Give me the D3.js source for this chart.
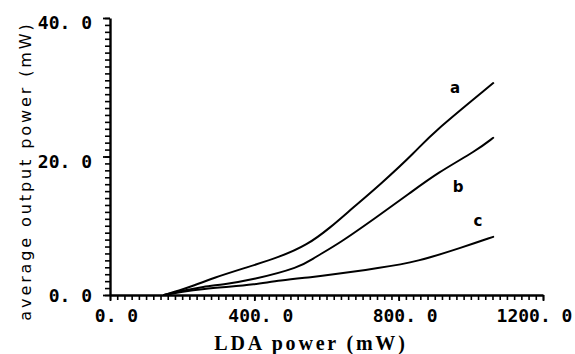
<!DOCTYPE html>
<html>
<head>
<meta charset="utf-8">
<script src="https://cdn.jsdelivr.net/npm/d3@7"></script>
<style>
  html, body { margin: 0; padding: 0; background: #fff; }
  svg { display: block; }
</style>
</head>
<body>
<svg id="chart" width="575" height="354"></svg>
<script>
// ---- data ----
const ldaA = [150, 194, 222, 285, 380, 471, 546, 610, 673, 748, 851, 887, 1062];
const outA = [0, 0.7, 1.15, 2.45, 4.0, 5.5, 7.2, 9.7, 12.6, 15.9, 20.9, 23.1, 30.6];

const ldaB = [150, 200, 260, 310, 396, 527, 563, 637, 740, 831, 906, 1017, 1062];
const outB = [0, 0.6, 1.2, 1.5, 2.2, 4.0, 5.3, 7.5, 11.3, 14.7, 17.6, 20.9, 22.7];

const ldaC = [150, 200, 260, 330, 396, 471, 563, 610, 748, 851, 978, 1062];
const outC = [0, 0.5, 0.9, 1.2, 1.5, 2.1, 2.6, 2.9, 3.9, 4.8, 6.9, 8.4];

const curveNames = ["a", "b", "c"];
const xMajorTicks = [0, 400, 800, 1200];
const xTickLabels = ["0. 0", "400. 0", "800. 0", "1200. 0"];
const yMajorTicks = [0, 20, 40];
const yTickLabels = ["0. 0", "20. 0", "40. 0"];
const xMinorStep = 20;
const yMinorStep = 1;
const xTitle = "LDA power (mW)";
const yTitle = "average output power (mW)";

// ---- layout ----
const svg = d3.select("#chart");
const x = d3.scaleLinear().domain([0, 1200]).range([110, 543]);
const y = d3.scaleLinear().domain([0, 40]).range([295, 18]);
const x0 = x(0), y0 = y(0);

const series = [
  { name: curveNames[0], xs: ldaA, ys: outA, lab: [455, 93] },
  { name: curveNames[1], xs: ldaB, ys: outB, lab: [458, 192] },
  { name: curveNames[2], xs: ldaC, ys: outC, lab: [478, 226] }
];

// titles
svg.append("text")
  .attr("transform", "translate(31,171) rotate(-90)")
  .attr("text-anchor", "middle")
  .style("font-family", "'DejaVu Sans', sans-serif")
  .style("font-size", "16px")
  .style("letter-spacing", "2.9px")
  .attr("fill", "#000")
  .text(yTitle);

svg.append("text")
  .attr("x", 311).attr("y", 350)
  .attr("text-anchor", "middle")
  .style("font-family", "'Liberation Serif', serif")
  .style("font-weight", "bold")
  .style("font-size", "20px")
  .style("letter-spacing", "2.8px")
  .attr("fill", "#000")
  .text(xTitle);

// curves
const lineGen = d3.line()
  .x(d => x(d[0]))
  .y(d => y(d[1]))
  .curve(d3.curveBasis);

series.forEach(s => {
  const pts = s.xs.map((v, i) => [v, s.ys[i]]);
  svg.append("path")
    .datum(pts)
    .attr("d", lineGen)
    .attr("fill", "none")
    .attr("stroke", "#000")
    .attr("stroke-width", 2)
    .attr("stroke-linejoin", "round")
    .attr("stroke-linecap", "round");
  svg.append("text")
    .attr("x", s.lab[0]).attr("y", s.lab[1])
    .attr("text-anchor", "middle")
    .style("font-family", "'DejaVu Sans', sans-serif")
    .style("font-weight", "bold")
    .style("font-size", "15px")
    .attr("fill", "#000")
    .text(s.name);
});

// minor ticks (d3 axes, no labels)
const yMinor = svg.append("g").attr("transform", `translate(${x0},0)`);
yMinor.call(d3.axisLeft(y)
  .tickValues(d3.range(0, 40 + 1e-6, yMinorStep))
  .tickSize(5)
  .tickFormat(() => ""));
yMinor.select(".domain").remove();
yMinor.selectAll(".tick line").attr("stroke", "#000").attr("stroke-width", 1.6);

const xMinor = svg.append("g").attr("transform", `translate(0,${y0})`);
xMinor.call(d3.axisBottom(x)
  .tickValues(d3.range(0, 1200 + 1e-6, xMinorStep))
  .tickSize(5)
  .tickFormat(() => ""));
xMinor.select(".domain").remove();
xMinor.selectAll(".tick line").attr("stroke", "#000").attr("stroke-width", 1.6);

// major axes with labels
const yAxis = svg.append("g")
  .attr("transform", `translate(${x0},0)`)
  .call(d3.axisLeft(y).tickValues(yMajorTicks).tickSize(7).tickSizeOuter(0)
    .tickFormat((d, i) => yTickLabels[i]));
yAxis.select(".domain").attr("stroke", "#000").attr("stroke-width", 2.4);
yAxis.selectAll(".tick line").attr("stroke", "#000").attr("stroke-width", 1.8);
yAxis.selectAll(".tick text")
  .attr("x", -18)
  .attr("dy", (d) => d === 0 ? "0.35em" : "0.6em")
  .attr("fill", "#000")
  .style("font-family", "'DejaVu Sans Mono', monospace")
  .style("font-weight", "bold")
  .style("font-size", "18px");

const xAxis = svg.append("g")
  .attr("transform", `translate(0,${y0})`)
  .call(d3.axisBottom(x).tickValues(xMajorTicks).tickSize(6).tickSizeOuter(0)
    .tickFormat((d, i) => xTickLabels[i]));
xAxis.select(".domain").attr("stroke", "#000").attr("stroke-width", 2.4);
xAxis.selectAll(".tick line").attr("stroke", "#000").attr("stroke-width", 1.8);
xAxis.selectAll(".tick text")
  .attr("y", 14)
  .attr("dx", (d) => d === 1200 ? -9 : 6)
  .attr("fill", "#000")
  .style("font-family", "'DejaVu Sans Mono', monospace")
  .style("font-weight", "bold")
  .style("font-size", "18px");
</script>
</body>
</html>
